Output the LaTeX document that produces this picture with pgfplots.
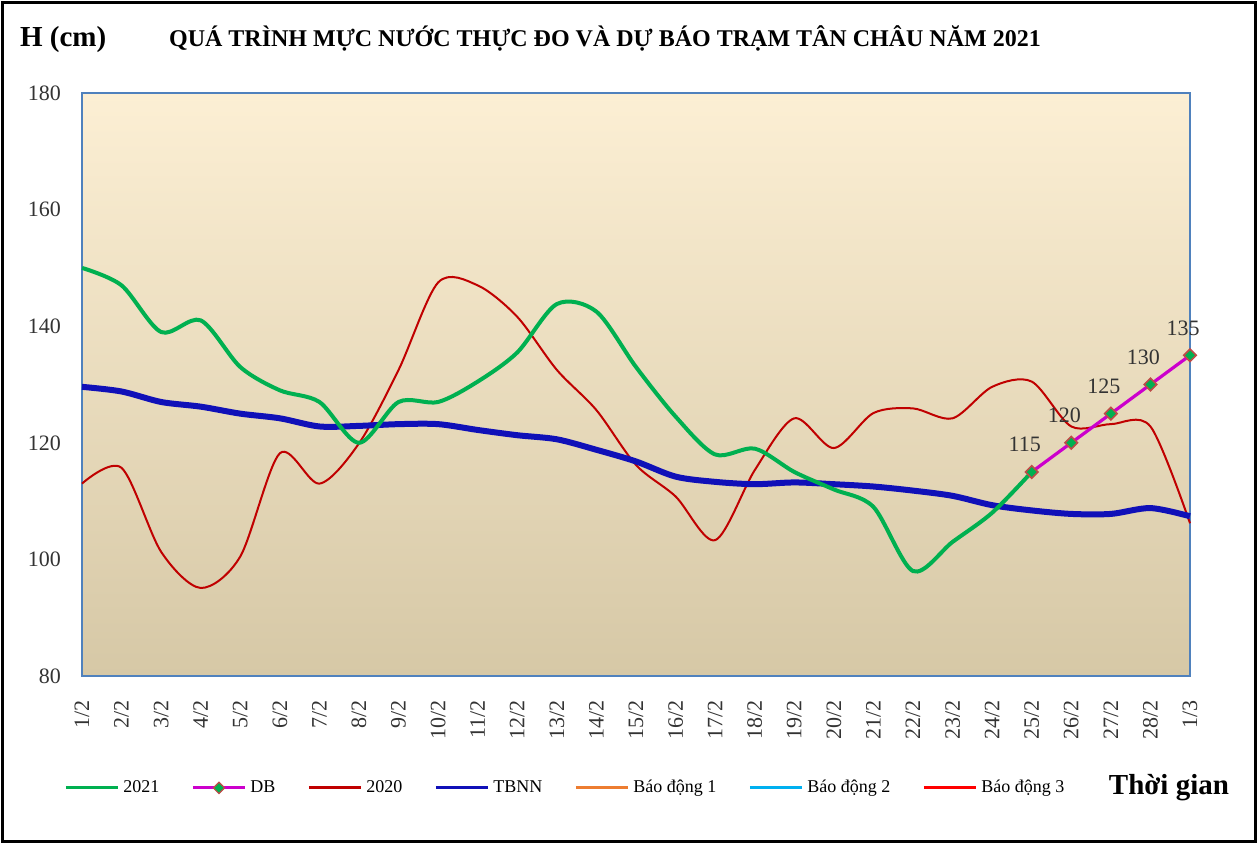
\documentclass[border=0pt]{standalone}
\usepackage{fontspec}
\setmainfont{Liberation Serif}
\usepackage{pgfplots}
\pgfplotsset{compat=1.18}
\definecolor{cGreen}{RGB}{0,176,80}
\definecolor{cDB}{RGB}{204,0,204}
\definecolor{cRed}{RGB}{192,0,0}
\definecolor{cBlue}{RGB}{16,16,184}
\definecolor{cOrange}{RGB}{237,125,49}
\definecolor{cSky}{RGB}{0,176,240}
\definecolor{cAlarm}{RGB}{255,0,0}
\definecolor{cEdge}{RGB}{190,75,72}
\definecolor{cAxis}{RGB}{79,129,189}
\definecolor{bgTop}{RGB}{252,239,212}
\definecolor{bgMid}{RGB}{241,233,211}
\definecolor{bgBot}{RGB}{214,200,166}
\begin{document}
\begin{tikzpicture}
\begin{axis}[
  scale only axis, width=554pt, height=291.5pt,
  xmin=0, xmax=28, ymin=80, ymax=180,
  xtick={0,...,28},
  xticklabels={1/2,2/2,3/2,4/2,5/2,6/2,7/2,8/2,9/2,10/2,11/2,12/2,13/2,14/2,15/2,16/2,17/2,18/2,19/2,20/2,21/2,22/2,23/2,24/2,25/2,26/2,27/2,28/2,1/3},
  ytick={80,100,...,180},
  major tick length=0pt,
  /pgf/number format/assume math mode=true,
  tick label style={font=\fontsize{11}{13}\selectfont, text=black!80},
  xticklabel style={rotate=90, anchor=east, xshift=-8.5pt},
  yticklabel style={xshift=-7pt},
  axis line style={draw=cAxis, line width=0.6pt},
  axis background/.style={top color=bgTop, middle color=bgMid, bottom color=bgBot},
  clip=false,
  legend style={at={(-0.0216,-0.192)}, anchor=west, draw=none, fill=none,
    legend columns=-1, font=\fontsize{9}{11}\selectfont,
    /tikz/every even column/.append style={column sep=14pt},
    /tikz/every odd column/.append style={column sep=0pt}},
  legend image code/.code={\draw[mark repeat=2,mark phase=2,#1] plot coordinates {(0pt,0pt) (13pt,0pt) (26pt,0pt)};},
]
% legend
\addlegendimage{color=cGreen, line width=1.5pt}
\addlegendentry{2021}
\addlegendimage{color=cDB, line width=1.5pt, mark=square*, mark size=2pt, mark options={rotate=45, fill=cGreen, draw=cEdge, line width=0.6pt}}
\addlegendentry{DB}
\addlegendimage{color=cRed, line width=1.5pt}
\addlegendentry{2020}
\addlegendimage{color=cBlue, line width=1.5pt}
\addlegendentry{TBNN}
\addlegendimage{color=cOrange, line width=1.5pt}
\addlegendentry{Báo động 1}
\addlegendimage{color=cSky, line width=1.5pt}
\addlegendentry{Báo động 2}
\addlegendimage{color=cAlarm, line width=1.5pt}
\addlegendentry{Báo động 3}
% 2020
\addplot[forget plot, color=cRed, line width=1pt, smooth, no markers] coordinates {
(0,113) (1,115.7) (2,101.3) (3,95.1) (4,100.5) (5,118.2) (6,113) (7,119.9) (8,132.5)
(9,147.5) (10,147) (11,141.6) (12,132.5) (13,125.6) (14,116.2) (15,110.8) (16,103.3)
(17,115.3) (18,124.2) (19,119.1) (20,125.1) (21,125.9) (22,124.2) (23,129.6) (24,130.5)
(25,122.8) (26,123.2) (27,122.8) (28,106.2)};
% TBNN
\addplot[forget plot, color=cBlue, line width=3pt, smooth, no markers] coordinates {
(0,129.6) (1,128.8) (2,127) (3,126.2) (4,125) (5,124.2) (6,122.8) (7,122.9) (8,123.2)
(9,123.2) (10,122.2) (11,121.3) (12,120.6) (13,118.8) (14,116.8) (15,114.2) (16,113.3)
(17,112.9) (18,113.2) (19,112.9) (20,112.5) (21,111.8) (22,110.9) (23,109.3) (24,108.4)
(25,107.8) (26,107.8) (27,108.8) (28,107.4)};
% 2021
\addplot[forget plot, color=cGreen, line width=2pt, smooth, no markers] coordinates {
(0,150) (1,147) (2,139) (3,141) (4,133) (5,129) (6,127) (7,120) (8,127) (9,127)
(10,130.5) (11,135.5) (12,143.8) (13,142.5) (14,133) (15,124.5) (16,118) (17,119)
(18,115) (19,112) (20,109) (21,98) (22,103) (23,108) (24,115)};
% DB
\addplot[forget plot, color=cDB, line width=1.6pt, mark=square*, mark size=2.2pt,
  mark options={rotate=45, fill=cGreen, draw=cEdge, line width=0.8pt},
  nodes near coords,
  every node near coord/.append style={font=\fontsize{11}{13}\selectfont, text=black!80, anchor=south, xshift=-3.5pt, yshift=8.5pt, inner sep=1pt}]
  coordinates {(24,115) (25,120) (26,125) (27,130) (28,135)};
\node[font=\bfseries\fontsize{12}{14}\selectfont, anchor=center] at (rel axis cs:0.472,1) [yshift=27.5pt] {QUÁ TRÌNH MỰC NƯỚC THỰC ĐO VÀ DỰ BÁO TRẠM TÂN CHÂU NĂM 2021};
\node[font=\bfseries\fontsize{14.5}{16}\selectfont, anchor=center] at (rel axis cs:-0.017,1) [yshift=26.5pt] {H (cm)};
\node[font=\bfseries\fontsize{14.5}{16}\selectfont, anchor=center] at (rel axis cs:0.981,-0.192) {Thời gian};
\end{axis}
\useasboundingbox ([shift={(-41pt,-84.5pt)}]current axis.south west) rectangle ([shift={(34pt,46.5pt)}]current axis.north east);
\draw[line width=1.5pt] ([shift={(-39.5pt,-83pt)}]current axis.south west) rectangle ([shift={(32.5pt,45pt)}]current axis.north east);
\end{tikzpicture}
\end{document}
